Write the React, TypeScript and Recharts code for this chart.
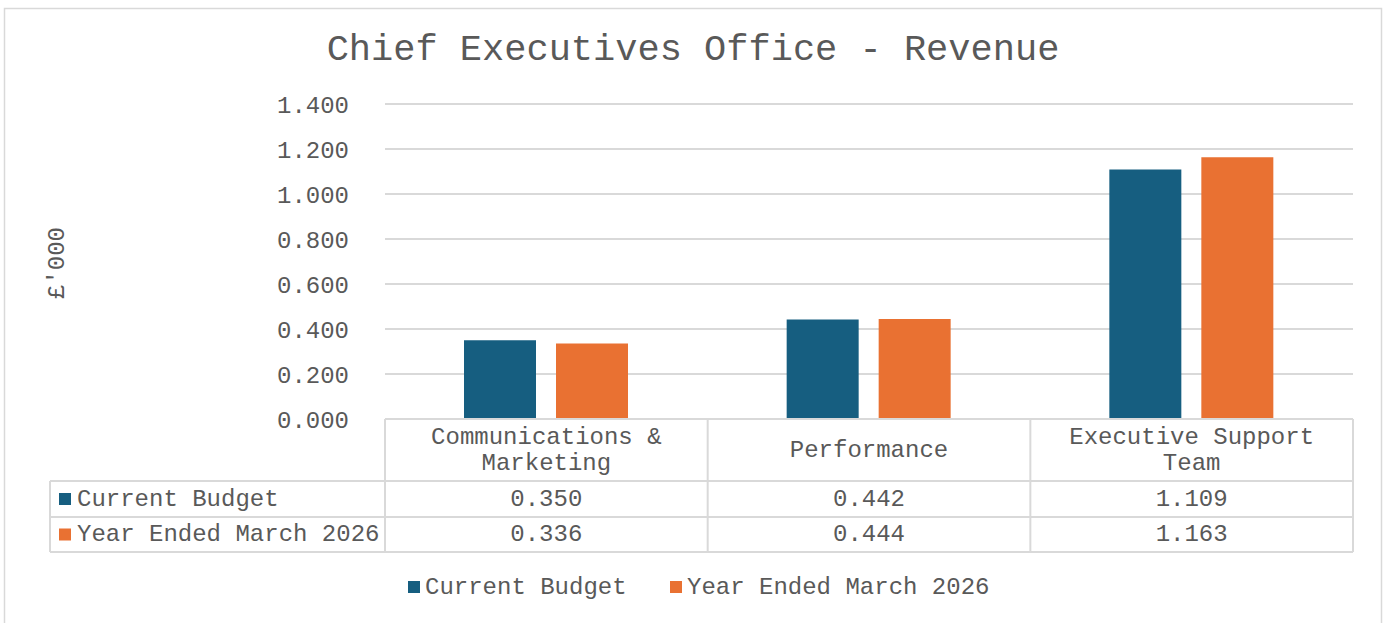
import React from "react"
import { BarChart, Bar, XAxis, YAxis, CartesianGrid } from "recharts"

const categories = ["Communications & Marketing", "Performance", "Executive Support Team"]
const currentBudget = [0.35, 0.442, 1.109]
const yearEnded = [0.336, 0.444, 1.163]
const seriesNames = ["Current Budget", "Year Ended March 2026"]
const seriesColors = ["#165e80", "#e97132"]
const yTicks = [0, 0.2, 0.4, 0.6, 0.8, 1.0, 1.2, 1.4]

const W = 1386
const H = 623
const FONT = "'Liberation Mono', 'Courier New', monospace"
const TEXT = "#595959"
const LINE = "#d9d9d9"
const margin = { top: 104, right: 33, bottom: 204, left: 285 }
const Y_AXIS_W = 100

const chartData = categories.map((name, i) => ({
  name,
  current: currentBudget[i],
  year: yearEnded[i],
}))

// wrap a label into lines of at most maxChars characters
function wrap(label: string, maxChars: number) {
  const lines: string[] = []
  let cur = ""
  label.split(" ").forEach((w) => {
    const next = cur ? cur + " " + w : w
    if (next.length > maxChars && cur) {
      lines.push(cur)
      cur = w
    } else cur = next
  })
  if (cur) lines.push(cur)
  return lines
}

function DataTable() {
  const plotLeft = margin.left + Y_AXIS_W
  const plotRight = W - margin.right
  const colW = (plotRight - plotLeft) / categories.length
  const tableLeft = 50
  const headTop = H - margin.bottom
  const rowTops = [481, 517, 552]
  const rows = [currentBudget, yearEnded]

  return (
    <g fontFamily={FONT} fontSize={24} fill={TEXT}>
      {/* horizontal lines */}
      <line x1={plotLeft} x2={plotRight} y1={headTop} y2={headTop} stroke={LINE} strokeWidth={2} />
      {rowTops.map((y) => (
        <line key={y} x1={tableLeft} x2={plotRight} y1={y} y2={y} stroke={LINE} strokeWidth={2} />
      ))}
      {/* vertical lines */}
      <line x1={tableLeft} x2={tableLeft} y1={rowTops[0]} y2={rowTops[2]} stroke={LINE} strokeWidth={2} />
      {categories.concat([""]).map((_, i) => (
        <line key={i} x1={plotLeft + i * colW} x2={plotLeft + i * colW} y1={headTop} y2={rowTops[2]} stroke={LINE} strokeWidth={2} />
      ))}
      {/* header */}
      {categories.map((c, i) => {
        const lines = wrap(c, 20)
        const cx = plotLeft + (i + 0.5) * colW
        const cy = (headTop + rowTops[0]) / 2
        return lines.map((ln, j) => (
          <text key={c + j} x={cx} y={cy + (j - (lines.length - 1) / 2) * 26} textAnchor="middle" dominantBaseline="central">
            {ln}
          </text>
        ))
      })}
      {/* rows */}
      {rows.map((vals, r) => {
        const cy = (rowTops[r] + rowTops[r + 1]) / 2
        return (
          <g key={r}>
            <rect x={59} y={cy - 6} width={12} height={12} fill={seriesColors[r]} />
            <text x={77} y={cy} dominantBaseline="central">{seriesNames[r]}</text>
            {vals.map((v, i) => (
              <text key={i} x={plotLeft + (i + 0.5) * colW} y={cy} textAnchor="middle" dominantBaseline="central">
                {v.toFixed(3)}
              </text>
            ))}
          </g>
        )
      })}
    </g>
  )
}

function BottomLegend() {
  const y = 587
  const items = [
    { x: 408, name: seriesNames[0], color: seriesColors[0] },
    { x: 670, name: seriesNames[1], color: seriesColors[1] },
  ]
  return (
    <g fontFamily={FONT} fontSize={24} fill={TEXT}>
      {items.map((it) => (
        <g key={it.name}>
          <rect x={it.x} y={y - 6} width={12} height={12} fill={it.color} />
          <text x={it.x + 17} y={y} dominantBaseline="central">{it.name}</text>
        </g>
      ))}
    </g>
  )
}

export default function App() {
  return (
    <div style={{ position: "fixed", left: 0, top: 0, width: W, height: H, background: "#fff" }}>
      <BarChart width={W} height={H} data={chartData} margin={margin} barGap={20}>
        <CartesianGrid vertical={false} stroke={LINE} strokeWidth={2} />
        <XAxis dataKey="name" hide />
        <YAxis
          width={Y_AXIS_W}
          domain={[0, 1.4]}
          ticks={yTicks}
          tickFormatter={(v: number) => v.toFixed(3)}
          axisLine={false}
          tickLine={false}
          tickSize={0}
          tickMargin={36}
          tick={{ fill: TEXT, fontSize: 24, fontFamily: FONT }}
        />
        <Bar dataKey="current" name={seriesNames[0]} fill={seriesColors[0]} barSize={72} isAnimationActive={false} />
        <Bar dataKey="year" name={seriesNames[1]} fill={seriesColors[1]} barSize={72} isAnimationActive={false} />
      </BarChart>
      <svg width={W} height={H} style={{ position: "absolute", left: 0, top: 0, pointerEvents: "none" }}>
        <rect x={4.5} y={8.5} width={1377} height={H} fill="none" stroke={LINE} strokeWidth={1.5} />
        <text x={693} y={50} textAnchor="middle" dominantBaseline="central" fontFamily={FONT} fontSize={37} fill={TEXT}>
          Chief Executives Office - Revenue
        </text>
        <text
          x={57}
          y={263}
          textAnchor="middle"
          dominantBaseline="central"
          fontFamily={FONT}
          fontSize={24}
          fill={TEXT}
          transform="rotate(-90 57 263)"
        >
          £'000
        </text>
        <DataTable />
        <BottomLegend />
      </svg>
    </div>
  )
}
